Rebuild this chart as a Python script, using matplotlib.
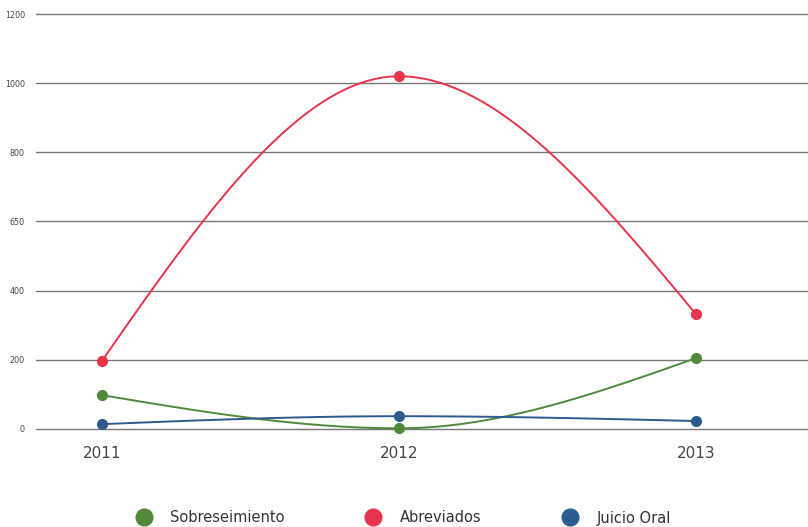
import numpy as np
import matplotlib.pyplot as plt
from matplotlib.lines import Line2D
from matplotlib.ticker import FixedLocator, FixedFormatter

years = [2011, 2012, 2013]
sobreseimiento = [98, 2, 205]
abreviados = [197, 1020, 332]
juicio_oral = [14, 37, 23]

series_names = ["Sobreseimiento", "Abreviados", "Juicio Oral"]
series_colors = ["#4f8a3b", "#e8344b", "#2d5b8e"]

y_ticks = [0, 200, 400, 600, 800, 1000, 1200]
y_tick_labels = ["0", "200", "400", "650", "800", "1000", "1200"]


def monotone_curve(x, y, n=60):
    # monotone cubic (same idea as d3.curveMonotoneX)
    x = np.asarray(x, float)
    y = np.asarray(y, float)
    h = np.diff(x)
    s = np.diff(y) / h
    m = np.zeros_like(y)
    for i in range(1, len(y) - 1):
        if s[i - 1] * s[i] <= 0:
            m[i] = 0
        else:
            p = (s[i - 1] * h[i] + s[i] * h[i - 1]) / (h[i - 1] + h[i])
            m[i] = (np.sign(s[i - 1]) + np.sign(s[i])) * min(abs(s[i - 1]), abs(s[i]), 0.5 * abs(p))
    m[0] = (3 * s[0] - m[1]) / 2
    m[-1] = (3 * s[-1] - m[-2]) / 2
    xs, ys = [], []
    for i in range(len(h)):
        t = np.linspace(0, 1, n)
        h00 = 2 * t**3 - 3 * t**2 + 1
        h10 = t**3 - 2 * t**2 + t
        h01 = -2 * t**3 + 3 * t**2
        h11 = t**3 - t**2
        xs.append(x[i] + t * h[i])
        ys.append(h00 * y[i] + h10 * h[i] * m[i] + h01 * y[i + 1] + h11 * h[i] * m[i + 1])
    return np.concatenate(xs), np.concatenate(ys)


fig = plt.figure(figsize=(8.08, 5.27), dpi=100)
ax = fig.add_axes([36 / 808, 1 - 429 / 527, 1 - 36 / 808, 415 / 527])

for values, color in zip([sobreseimiento, abreviados, juicio_oral], series_colors):
    cx, cy = monotone_curve(years, values)
    ax.plot(cx, cy, color=color, lw=1.4, zorder=3, clip_on=False)
    ax.plot(years, values, "o", color=color, ms=7, zorder=4, clip_on=False)

ax.set_xlim(2011 - 66 / 297, 2013 + 112 / 297)
ax.set_ylim(0, 1200)
ax.yaxis.set_major_locator(FixedLocator(y_ticks))
ax.yaxis.set_major_formatter(FixedFormatter(y_tick_labels))
ax.set_xticks(years)
ax.set_xticklabels([str(y) for y in years])
ax.grid(axis="y", color="#777777", lw=1)
for gl in ax.get_ygridlines():
    gl.set_clip_on(False)
ax.set_axisbelow(True)
for sp in ax.spines.values():
    sp.set_visible(False)
ax.tick_params(axis="y", length=0, labelsize=5.8, colors="#444444", pad=8)
ax.tick_params(axis="x", length=0, labelsize=11, colors="#444444", pad=12)

handles = [Line2D([], [], marker="o", ls="", color=c, ms=12) for c in series_colors]
fig.legend(handles, series_names, loc="center", bbox_to_anchor=(400 / 808, 1 - 518 / 527),
           ncol=3, frameon=False, fontsize=10.5, handletextpad=0.8, columnspacing=5.1,
           labelcolor="#333333")

fig.savefig("out.png", dpi=100)
